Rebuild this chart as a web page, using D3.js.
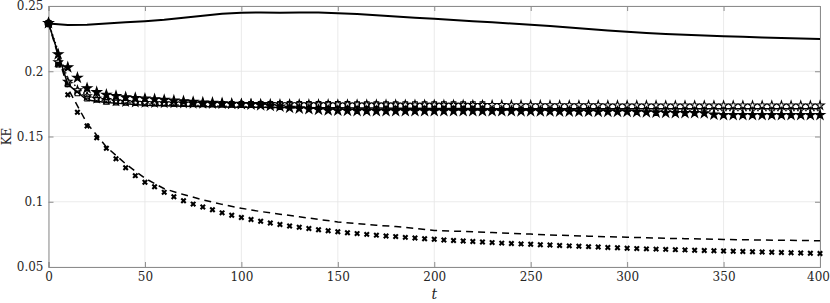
<!DOCTYPE html>
<html>
<head>
<meta charset="utf-8">
<script src="https://cdn.jsdelivr.net/npm/d3@7"></script>
<style>
  body { margin: 0; background: #fff; }
</style>
</head>
<body>
<div id="chart"></div>
<script>
// time grids
const t10 = d3.range(0, 401, 10);
const t5 = d3.range(0, 401, 5);
const tSquares = d3.range(0, 226, 5);

const xTicks = [0, 50, 100, 150, 200, 250, 300, 350, 400];
const yTicks = [0.05, 0.1, 0.15, 0.2, 0.25];
const yTickLabels = ["0.05", "0.1", "0.15", "0.2", "0.25"];

// solid line on top
const topLine = [0.2366, 0.2355, 0.2356, 0.2365, 0.2375, 0.2384, 0.2395, 0.2410, 0.2425, 0.2440,
  0.2449, 0.2450, 0.2449, 0.2450, 0.2451, 0.2445, 0.2438, 0.2430, 0.2420, 0.2410,
  0.2402, 0.2393, 0.2384, 0.2375, 0.2366, 0.2357, 0.2346, 0.2335, 0.2323, 0.2312,
  0.2302, 0.2293, 0.2285, 0.2279, 0.2273, 0.2269, 0.2264, 0.2259, 0.2255, 0.2251, 0.2248];

// dashed decaying line (t10)
const dashLine = [0.237, 0.187, 0.160, 0.142, 0.129, 0.118, 0.110, 0.1055, 0.1015, 0.098,
  0.095, 0.0925, 0.0905, 0.0885, 0.0865, 0.0845, 0.0832, 0.082, 0.081, 0.0795,
  0.078, 0.0775, 0.077, 0.0764, 0.0758, 0.0752, 0.0746, 0.0741, 0.0736, 0.0732,
  0.0728, 0.0724, 0.0720, 0.0717, 0.0714, 0.0711, 0.0709, 0.0707, 0.0705, 0.0703, 0.0701];

// cross markers (t5)
const crosses = [0.237, 0.205, 0.182, 0.1686, 0.158, 0.149, 0.141, 0.133, 0.126, 0.120,
  0.115, 0.1115, 0.1072, 0.1038, 0.1008, 0.0982, 0.096, 0.0938, 0.0915, 0.0896,
  0.0879, 0.0864, 0.085, 0.0837, 0.0825, 0.0814, 0.0804, 0.0795, 0.0786, 0.0778,
  0.077, 0.0763, 0.0756, 0.075, 0.0744, 0.0738, 0.0733, 0.0727, 0.0722, 0.0717,
  0.0712, 0.0707, 0.0703, 0.0699, 0.0695, 0.0691, 0.0687, 0.0683, 0.068, 0.0677,
  0.0674, 0.0671, 0.0668, 0.0665, 0.0662, 0.0659, 0.0656, 0.0653, 0.065, 0.0647,
  0.0644, 0.0641, 0.0639, 0.0637, 0.0635, 0.0633, 0.0631, 0.0629, 0.0627, 0.0625,
  0.0623, 0.0621, 0.0619, 0.0617, 0.0615, 0.0613, 0.0611, 0.0609, 0.0607, 0.0605, 0.0603];

// middle solid line (t10)
const midLine = [0.237, 0.190, 0.178, 0.176, 0.175, 0.174, 0.1735, 0.1732, 0.173, 0.1727,
  0.1725, 0.1724, 0.1723, 0.1722, 0.1721, 0.172, 0.1719, 0.1718, 0.1717, 0.1716,
  0.1715, 0.1714, 0.1714, 0.1713, 0.1713, 0.1713, 0.1713, 0.1713, 0.1713, 0.1713,
  0.1713, 0.1713, 0.1713, 0.1713, 0.1713, 0.1713, 0.1713, 0.1713, 0.1713, 0.1713, 0.1713];

// dotted line (t10)
const dotLine = [0.237, 0.194, 0.181, 0.177, 0.176, 0.175, 0.1745, 0.174, 0.1737, 0.1733,
  0.173, 0.1726, 0.1722, 0.1718, 0.1715, 0.1715, 0.1712, 0.171, 0.1708, 0.1706,
  0.1705, 0.1704, 0.1703, 0.1702, 0.1702, 0.1701, 0.1701, 0.170, 0.170, 0.170,
  0.170, 0.170, 0.170, 0.170, 0.170, 0.170, 0.170, 0.170, 0.170, 0.170, 0.170];

// open square markers (tSquares)
const squares = [0.237, 0.205, 0.190, 0.183, 0.179, 0.178, 0.1766, 0.176, 0.1758, 0.1755,
  0.1753, 0.1752, 0.1752, 0.1751, 0.1751, 0.175, 0.175, 0.175, 0.175, 0.175,
  0.175, 0.175, 0.175, 0.175, 0.175, 0.175, 0.1749, 0.1749, 0.1749, 0.1749,
  0.1749, 0.1749, 0.1748, 0.1748, 0.1748, 0.1748, 0.1748, 0.1748, 0.1748, 0.1748,
  0.1748, 0.1748, 0.1748, 0.1748, 0.1748, 0.1748];

// open star markers (t5)
const openStars = [0.237, 0.207, 0.192, 0.1855, 0.181, 0.179, 0.178, 0.177, 0.1765, 0.176,
  0.1758, 0.1756, 0.1755, 0.1754, 0.1753, 0.1752, 0.1751, 0.175, 0.175, 0.175,
  0.175, 0.1749, 0.1749, 0.1749, 0.1748, 0.1748, 0.1748, 0.1747, 0.1747, 0.1747,
  0.1746, 0.1746, 0.1746, 0.1745, 0.1745, 0.1745, 0.1745, 0.1744, 0.1744, 0.1744,
  0.1744, 0.1743, 0.1743, 0.1743, 0.1742, 0.1742, 0.1742, 0.1742, 0.1741, 0.1741,
  0.1741, 0.1741, 0.174, 0.174, 0.174, 0.174, 0.174, 0.174, 0.1739, 0.1739,
  0.1739, 0.1739, 0.1739, 0.1739, 0.1738, 0.1738, 0.1738, 0.1738, 0.1738, 0.1738,
  0.1738, 0.1738, 0.1738, 0.1738, 0.1738, 0.1738, 0.1738, 0.1738, 0.1738, 0.1738, 0.1738];

// filled star markers (t5)
const filledStars = [0.237, 0.213, 0.203, 0.195, 0.187, 0.184, 0.182, 0.181, 0.180, 0.1795,
  0.179, 0.1785, 0.178, 0.1775, 0.177, 0.1765, 0.176, 0.1758, 0.1755, 0.175,
  0.1748, 0.1745, 0.174, 0.1735, 0.173, 0.172, 0.1715, 0.171, 0.1705, 0.170,
  0.1698, 0.1697, 0.1696, 0.1696, 0.1695, 0.1695, 0.1695, 0.1695, 0.1695, 0.1695,
  0.1695, 0.1695, 0.1695, 0.1695, 0.1695, 0.1695, 0.1695, 0.1695, 0.1695, 0.1694,
  0.1694, 0.1693, 0.1693, 0.1692, 0.1692, 0.1691, 0.1691, 0.169, 0.169, 0.169,
  0.169, 0.1688, 0.1686, 0.1684, 0.1682, 0.168, 0.168, 0.168, 0.1678, 0.1668,
  0.1665, 0.1665, 0.1665, 0.1665, 0.1665, 0.1665, 0.1665, 0.1665, 0.1665, 0.1665, 0.1665];

const serif = "DejaVu Serif";

let margin = {top: 6, right: 10, bottom: 36, left: 48.5};
let width = 830 - margin.left - margin.right;
let height = 303 - margin.top - margin.bottom;

let x = d3.scaleLinear().domain([0, 400]).range([0, width]);
let y = d3.scaleLinear().domain([0.05, 0.25]).range([height, 0]);

let svg = d3.select("#chart")
  .append("svg")
  .attr("width", 830)
  .attr("height", 303)
  .append("g")
  .attr("transform", "translate(" + margin.left + "," + margin.top + ")");

// grid
svg.append("g").selectAll("line").data(xTicks).join("line")
  .attr("x1", d => x(d)).attr("x2", d => x(d))
  .attr("y1", 0).attr("y2", height)
  .attr("stroke", "#e6e6e6").attr("stroke-width", 0.8);
svg.append("g").selectAll("line").data(yTicks).join("line")
  .attr("y1", d => y(d)).attr("y2", d => y(d))
  .attr("x1", 0).attr("x2", width)
  .attr("stroke", "#e6e6e6").attr("stroke-width", 0.8);

const axisColor = "#8c8c8c";
// axes with inward ticks
let xb = svg.append("g").attr("transform", "translate(0," + height + ")")
  .call(d3.axisBottom(x).tickValues(xTicks).tickSize(-5).tickPadding(5).tickFormat(d3.format("d")));
let xt = svg.append("g")
  .call(d3.axisTop(x).tickValues(xTicks).tickSize(-5).tickFormat(""));
let yl = svg.append("g")
  .call(d3.axisLeft(y).tickValues(yTicks).tickSize(-5).tickPadding(5).tickFormat((d, i) => yTickLabels[i]));
let yr = svg.append("g").attr("transform", "translate(" + width + ",0)")
  .call(d3.axisRight(y).tickValues(yTicks).tickSize(-5).tickFormat(""));
[xb, xt, yl, yr].forEach(a => {
  a.attr("font-family", serif).attr("font-size", 12);
  a.select(".domain").attr("stroke", axisColor).attr("stroke-width", 1);
  a.selectAll(".tick line").attr("stroke", axisColor);
  a.selectAll("text").attr("fill", "#262626");
});
// keep the last x label inside the frame
xb.selectAll(".tick text").filter(d => d === 400).attr("dx", "-2");

const line = d3.line().x(d => x(d[0])).y(d => y(d[1]));
const zip = (ts, vs) => ts.map((t, i) => [t, vs[i]]);

svg.append("path").datum(zip(t10, dashLine))
  .attr("fill", "none").attr("stroke", "black").attr("stroke-width", 1.5)
  .attr("stroke-dasharray", "7,5").attr("d", line);

svg.append("path").datum(zip(t10, dotLine))
  .attr("fill", "none").attr("stroke", "black").attr("stroke-width", 1.5)
  .attr("stroke-dasharray", "1.5,2.5").attr("d", line);

svg.append("path").datum(zip(t10, midLine))
  .attr("fill", "none").attr("stroke", "black").attr("stroke-width", 1.5).attr("d", line);

svg.append("path").datum(zip(t10, topLine))
  .attr("fill", "none").attr("stroke", "black").attr("stroke-width", 2).attr("d", line);

// markers
svg.append("g").selectAll("path").data(zip(t5, crosses)).join("path")
  .attr("transform", d => "translate(" + x(d[0]) + "," + y(d[1]) + ") rotate(45)")
  .attr("d", d3.symbol(d3.symbolCross, 22))
  .attr("fill", "black");

svg.append("g").selectAll("path").data(zip(t5, filledStars)).join("path")
  .attr("transform", d => "translate(" + x(d[0]) + "," + y(d[1]) + ")")
  .attr("d", d3.symbol(d3.symbolStar, 26))
  .attr("fill", "black").attr("stroke", "black").attr("stroke-width", 1.2);

svg.append("g").selectAll("path").data(zip(tSquares, squares)).join("path")
  .attr("transform", d => "translate(" + x(d[0]) + "," + y(d[1]) + ")")
  .attr("d", d3.symbol(d3.symbolSquare, 22))
  .attr("fill", "none").attr("stroke", "black").attr("stroke-width", 1.1);

svg.append("g").selectAll("path").data(zip(t5, openStars)).join("path")
  .attr("transform", d => "translate(" + x(d[0]) + "," + y(d[1]) + ")")
  .attr("d", d3.symbol(d3.symbolStar, 22))
  .attr("fill", "none").attr("stroke", "black").attr("stroke-width", 1.1);

// start point
svg.append("circle").datum([t5[0], topLine[0]])
  .attr("cx", d => x(d[0])).attr("cy", d => y(d[1])).attr("r", 4).attr("fill", "black");

// labels
svg.append("text").attr("x", width / 2).attr("y", height + 32)
  .attr("text-anchor", "middle").attr("font-size", 14).attr("font-style", "italic")
  .attr("font-family", serif).attr("fill", "#262626").text("t");
svg.append("text").attr("transform", "translate(-38," + (height / 2) + ") rotate(-90)")
  .attr("text-anchor", "middle").attr("font-size", 12)
  .attr("font-family", serif).attr("fill", "#262626").text("KE");
</script>
</body>
</html>
